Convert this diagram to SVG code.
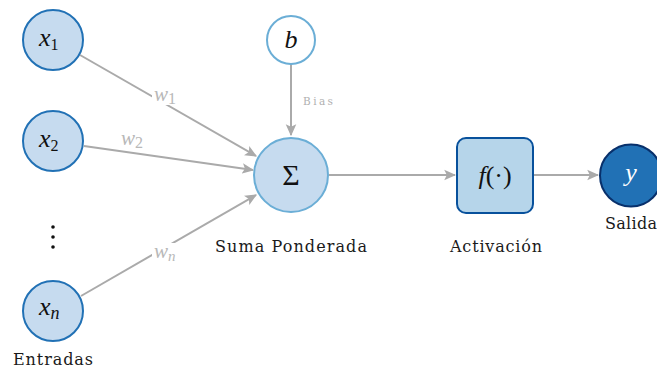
<svg xmlns="http://www.w3.org/2000/svg" width="657" height="369" viewBox="0 0 657 369" font-family="Liberation Serif, DejaVu Serif, serif">
  <style>
    .edge { stroke: #aaaaaa; stroke-width: 2; fill: none; marker-end: url(#arrow); }
    .input { fill: #c6dbef; stroke: #2171b5; stroke-width: 2; }
    .math { font-style: italic; font-size: 26px; fill: #111; }
    .label { font-family: 'DejaVu Serif', serif; font-size: 16px; fill: #1a1a1a; text-anchor: middle; }
    .weight { font-style: italic; font-size: 21px; fill: #b8b8b8; }
    .idx { font-style: normal; font-size: 16px; }
  </style>
  <defs>
    <marker id="arrow" viewBox="0 0 10 10" refX="9" refY="5" markerWidth="6" markerHeight="6" orient="auto" markerUnits="strokeWidth">
      <path d="M0,0.6 L10,5 L0,9.4 L2.2,5 Z" fill="#aaaaaa"/>
    </marker>
  </defs>
  <rect width="657" height="369" fill="#ffffff"/>

  <g id="connectors">
    <line class="edge" x1="80" y1="55" x2="256" y2="156"/>
    <line class="edge" x1="84" y1="146" x2="253" y2="170"/>
    <line class="edge" x1="81" y1="296" x2="256" y2="195"/>
    <line class="edge" x1="291" y1="64" x2="291" y2="135"/>
    <line class="edge" x1="329" y1="175" x2="455" y2="175"/>
    <line class="edge" x1="534" y1="175" x2="598" y2="175"/>
    <!-- weight labels sit on white patches that break the lines -->
    <rect x="152" y="85" width="30" height="20" fill="#ffffff"/>
    <text class="weight" x="154" y="101">w<tspan class="idx" font-size="15" dy="3">1</tspan></text>
    <rect x="119" y="131" width="30" height="19" fill="#ffffff"/>
    <text class="weight" x="121" y="145">w<tspan class="idx" font-size="15" dy="3">2</tspan></text>
    <rect x="152" y="243" width="32" height="20" fill="#ffffff"/>
    <text class="weight" x="154" y="258">w<tspan font-size="15" dy="3">n</tspan></text>
    <text x="303" y="105" font-family="DejaVu Serif, serif" font-size="10.5" fill="#b0b0b0" textLength="30" lengthAdjust="spacing">Bias</text>
  </g>

  <g id="x1">
    <circle class="input" cx="53" cy="40" r="30"/>
    <text class="math" x="39" y="46">x<tspan class="idx" dy="4">1</tspan></text>
  </g>
  <g id="x2">
    <circle class="input" cx="53" cy="141" r="30"/>
    <text class="math" x="39" y="147">x<tspan class="idx" dy="4">2</tspan></text>
  </g>
  <g id="dots">
    <circle cx="53" cy="227" r="1.8" fill="#111"/>
    <circle cx="53" cy="237" r="1.8" fill="#111"/>
    <circle cx="53" cy="247" r="1.8" fill="#111"/>
  </g>
  <g id="xn">
    <circle class="input" cx="53" cy="311" r="30"/>
    <text class="math" x="39" y="315">x<tspan font-size="18" dy="4">n</tspan></text>
    <text class="label" x="53" y="365" textLength="80" lengthAdjust="spacing">Entradas</text>
  </g>
  <g id="bias">
    <circle cx="291" cy="40" r="24" fill="#ffffff" stroke="#6baed6" stroke-width="2"/>
    <text class="math" x="291" y="48" text-anchor="middle">b</text>
  </g>
  <g id="sum">
    <circle cx="291" cy="175" r="37" fill="#c6dbef" stroke="#6baed6" stroke-width="2"/>
    <text x="291" y="185" font-size="30" fill="#111" text-anchor="middle">Σ</text>
    <text class="label" x="291" y="252" textLength="152" lengthAdjust="spacing">Suma Ponderada</text>
  </g>
  <g id="activation">
    <rect x="457" y="138" width="76" height="75" rx="9" fill="#b6d5ea" stroke="#08519c" stroke-width="2"/>
    <text class="math" x="495" y="184" font-size="28" text-anchor="middle">f<tspan font-style="normal">(·)</tspan></text>
    <text class="label" x="496" y="252" textLength="92" lengthAdjust="spacing">Activación</text>
  </g>
  <g id="output">
    <circle cx="631" cy="175.5" r="31" fill="#2171b5" stroke="#08306b" stroke-width="2"/>
    <text class="math" x="631" y="181" text-anchor="middle" style="fill:#ffffff">y</text>
    <text class="label" x="631" y="229" textLength="52" lengthAdjust="spacing">Salida</text>
  </g>
</svg>
